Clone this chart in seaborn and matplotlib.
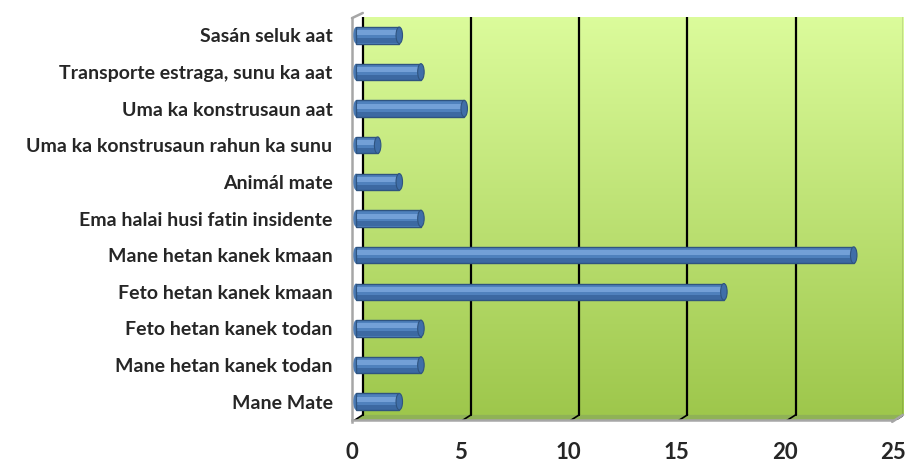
import matplotlib
matplotlib.use("Agg")
import matplotlib.pyplot as plt
import matplotlib.transforms as mtransforms
import seaborn as sns
import numpy as np
import pandas as pd
from matplotlib.patches import Polygon, Rectangle, Ellipse

# Categories listed top to bottom as they appear in the chart
categories = [
    "Sasán seluk aat",
    "Transporte estraga, sunu ka aat",
    "Uma ka konstrusaun aat",
    "Uma ka konstrusaun rahun ka sunu",
    "Animál mate",
    "Ema halai husi fatin insidente",
    "Mane hetan kanek kmaan",
    "Feto hetan kanek kmaan",
    "Feto hetan kanek todan",
    "Mane hetan kanek todan",
    "Mane Mate",
]
values = [2, 3, 5, 1, 2, 3, 23, 17, 3, 3, 2]
x_ticks = [0, 5, 10, 15, 20, 25]

sns.set_style("white")
plt.rcParams["font.family"] = ["Lato", "DejaVu Sans"]

df = pd.DataFrame({"category": categories, "value": values})

W, H = 919, 470
fig = plt.figure(figsize=(W / 100, H / 100), dpi=100)
# axes spans the wall/floor area (pixels 352..903 horizontally, 17..420 vertically)
ax = fig.add_axes([352 / W, 1 - 420 / H, (903 - 352) / W, (420 - 17) / H])

xmax = 25 * (903 - 352) / (893 - 352)
depth = 0.5          # 3d depth offset in data units along x
ytop, ybot = -0.61, 10.55
wall_bot = 10.36

ax.set_xlim(0, xmax)
ax.set_ylim(ybot, ytop)

# back wall with vertical green gradient
grad = np.linspace(0, 1, 256).reshape(-1, 1)
cmap = matplotlib.colors.LinearSegmentedColormap.from_list("wall", ["#dcfc9c", "#9ec74c"])
ax.imshow(grad, extent=[depth, xmax, wall_bot, ytop], aspect="auto",
          cmap=cmap, zorder=0, interpolation="bilinear")

# floor
floor = Polygon([[0, ybot], [xmax - depth, ybot], [xmax, wall_bot], [depth, wall_bot]],
                closed=True, facecolor="#8fb256", edgecolor="none", zorder=0.5)
ax.add_patch(floor)

# gridlines on the back wall plus diagonal segments on the floor
for v in x_ticks:
    ax.plot([v + depth, v + depth], [wall_bot, ytop], color="black", lw=1.6, zorder=1)
    ax.plot([v, v + depth], [ybot, wall_bot], color="black", lw=1.2, zorder=1)

# bars
sns.barplot(data=df, x="value", y="category", orient="h", color="#4f81bd",
            saturation=1, width=0.45, edgecolor="#2f5480", linewidth=1.0,
            ax=ax, zorder=3)

# bars sit half way into the 3d depth: shift them a few pixels right
shift = mtransforms.ScaledTranslation(4 / 100, 0, fig.dpi_scale_trans)

bars = [p for p in ax.patches if isinstance(p, Rectangle) and p.get_width() > 0]
for p in bars:
    p.set_transform(ax.transData + shift)
    x0, y0 = p.get_x(), p.get_y()
    w, h = p.get_width(), p.get_height()
    # cylinder shading
    for yy, hh, col, a in [(0.2, 0.3, "#80abe0", 0.75), (0.68, 0.3, "#2a5288", 0.5)]:
        ax.add_patch(Rectangle((x0 + 0.05, y0 + h * yy), w - 0.1, h * hh,
                               facecolor=col, edgecolor="none", alpha=a, zorder=4,
                               transform=ax.transData + shift))
    # rounded end caps
    ax.add_patch(Ellipse((x0, y0 + h / 2), 0.25, h, facecolor="#4a7bb6",
                         edgecolor="none", zorder=2.9,
                         transform=ax.transData + shift))
    ax.add_patch(Ellipse((x0 + w, y0 + h / 2), 0.3, h, facecolor="#3f6ea8",
                         edgecolor="#2f5480", lw=0.8, zorder=4.5,
                         transform=ax.transData + shift))

# axes styling
for s in ["top", "right"]:
    ax.spines[s].set_visible(False)
ax.spines["left"].set_color("#a6a6a6")
ax.spines["left"].set_linewidth(1.8)
ax.spines["left"].set_bounds(ytop + 0.14, ybot)
ax.spines["bottom"].set_color("#a6a6a6")
ax.spines["bottom"].set_linewidth(1.8)
ax.spines["bottom"].set_bounds(0, xmax - depth)
ax.plot([0, depth], [ytop + 0.14, ytop], color="#a6a6a6", lw=1.8, clip_on=False, zorder=5)
ax.plot([xmax - depth, xmax], [ybot, wall_bot], color="#a6a6a6", lw=1.8, clip_on=False, zorder=5)

ax.set_xticks(x_ticks)
ax.set_xticklabels([str(t) for t in x_ticks], fontsize=16, fontweight="bold")
ax.tick_params(axis="x", length=5, width=1.5, color="#a6a6a6", pad=11, direction="out")

ax.set_yticks(np.arange(-0.5, len(categories), 1.0))
ax.set_yticklabels([])
ax.tick_params(axis="y", which="major", length=6, width=1.5, color="#a6a6a6", direction="out")
ax.set_yticks(np.arange(len(categories)), minor=True)
ax.set_yticklabels(categories, minor=True, fontsize=14, fontweight="bold")
ax.tick_params(axis="y", which="minor", length=0, pad=14)

ax.set_xlabel("")
ax.set_ylabel("")

fig.savefig("out.png", dpi=100)
